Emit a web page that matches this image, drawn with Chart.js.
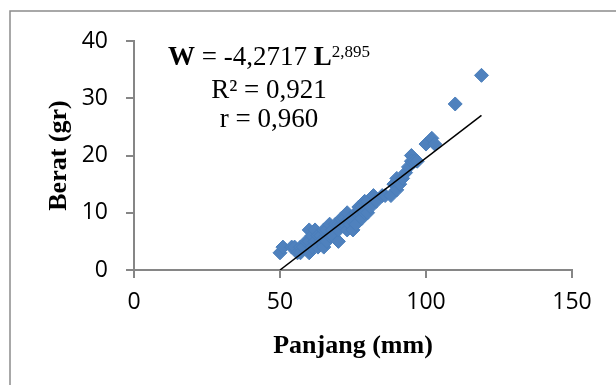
<!DOCTYPE html>
<html>
<head>
<meta charset="utf-8">
<script src="https://cdn.jsdelivr.net/npm/chart.js@4"></script>
<style>
  html, body { margin: 0; padding: 0; background: #fff; }
  #wrap { width: 616px; height: 385px; }
</style>
</head>
<body>
<div id="wrap"><canvas id="chart" width="616" height="385"></canvas></div>
<script>
// panjang (mm) dan berat (gr) tiap ikan
const panjang = [50, 51, 54, 55, 56, 57, 57, 58, 59, 60, 60, 60, 61, 61, 62, 62, 63, 63, 64, 64,
  65, 65, 66, 66, 67, 67, 68, 68, 69, 70, 70, 70, 71, 71, 72, 72, 73, 73, 74, 74,
  75, 75, 76, 76, 77, 77, 78, 78, 79, 79, 80, 80, 81, 82, 83, 85, 86, 88, 89, 90,
  90, 91, 92, 93, 94, 95, 95, 96, 97, 100, 102, 103, 110, 119];
const berat = [3, 4, 4, 4, 3, 4, 3, 4, 5, 5, 3, 7, 6, 4, 7, 5, 6, 4, 6, 5,
  7, 4, 7, 5, 6, 8, 7, 6, 8, 8, 5, 7, 8, 9, 9, 8, 10, 7, 8, 9,
  7, 9, 10, 8, 10, 11, 9, 11, 12, 10, 12, 10, 11, 13, 12, 13, 13, 13, 15, 16,
  14, 15, 16, 17, 18, 20, 19, 19, 19, 22, 23, 22, 29, 34];

// garis tren (linear)
const trendX = [50, 119];
const trendY = [0, 27];

const xTicks = [0, 50, 100, 150];
const yTicks = [0, 10, 20, 30, 40];

const eqLines = ['W = -4,2717 L', '2,895', 'R\u00B2 = 0,921', 'r = 0,960'];

const axisGray = '#868686';
const serif = "'Liberation Serif', 'Times New Roman', serif";

// bingkai luar + teks persamaan
const extras = {
  id: 'extras',
  beforeDraw(chart) {
    const ctx = chart.ctx;
    ctx.save();
    ctx.strokeStyle = '#8c8c8c';
    ctx.lineWidth = 1.5;
    ctx.strokeRect(10, 11, 700, 500);
    ctx.restore();
  },
  afterDraw(chart) {
    const ctx = chart.ctx;
    const cx = 269;
    ctx.save();
    ctx.fillStyle = '#000';
    ctx.textBaseline = 'alphabetic';
    ctx.textAlign = 'left';

    // baris 1: W = -4,2717 L^2,895
    const big = '27px ' + serif;
    const bigB = 'bold 27px ' + serif;
    const sup = '17px ' + serif;
    ctx.font = bigB; const wW = ctx.measureText('W').width;
    ctx.font = big; const wMid = ctx.measureText(' = -4,2717 ').width;
    ctx.font = bigB; const wL = ctx.measureText('L').width;
    ctx.font = sup; const wSup = ctx.measureText(eqLines[1]).width;
    let x = cx - (wW + wMid + wL + wSup) / 2;
    ctx.font = bigB; ctx.fillText('W', x, 65); x += wW;
    ctx.font = big; ctx.fillText(' = -4,2717 ', x, 65); x += wMid;
    ctx.font = bigB; ctx.fillText('L', x, 65); x += wL;
    ctx.font = sup; ctx.fillText(eqLines[1], x, 57);

    ctx.font = big;
    ctx.textAlign = 'center';
    ctx.fillText(eqLines[2], cx, 98);
    ctx.fillText(eqLines[3], cx, 127);
    ctx.restore();
  }
};

new Chart(document.getElementById('chart'), {
  type: 'scatter',
  data: {
    datasets: [
      {
        label: 'Tren',
        data: trendX.map((v, i) => ({ x: v, y: trendY[i] })),
        showLine: true,
        borderColor: '#000',
        borderWidth: 1.5,
        pointRadius: 0,
        pointHoverRadius: 0
      },
      {
        label: 'Berat',
        data: panjang.map((v, i) => ({ x: v, y: berat[i] })),
        pointStyle: 'rectRot',
        pointRadius: 7,
        pointHoverRadius: 7,
        backgroundColor: '#4F81BD',
        borderColor: '#4A7EBB',
        borderWidth: 1
      }
    ]
  },
  options: {
    responsive: false,
    animation: false,
    devicePixelRatio: 1,
    layout: { padding: { top: 41, right: 44, left: 0, bottom: 0 } },
    plugins: {
      legend: { display: false },
      tooltip: { enabled: false }
    },
    scales: {
      x: {
        type: 'linear',
        min: 0,
        max: 150,
        afterBuildTicks: s => { s.ticks = xTicks.map(v => ({ value: v })); },
        afterFit: s => { s.height = 115; },
        grid: { drawOnChartArea: false, drawTicks: true, tickLength: 8, color: axisGray, lineWidth: 2 },
        border: { display: true, color: axisGray, width: 2 },
        ticks: { color: '#000', font: { family: "'Open Sans'", size: 23 }, padding: 11 },
        title: {
          display: true,
          text: 'Panjang (mm)',
          color: '#000',
          font: { family: serif, size: 26, weight: 'bold' },
          padding: { top: 0, bottom: 23 }
        }
      },
      y: {
        type: 'linear',
        min: 0,
        max: 40,
        afterBuildTicks: s => { s.ticks = yTicks.map(v => ({ value: v })); },
        afterFit: s => { s.width = 134; },
        grid: { drawOnChartArea: false, drawTicks: true, tickLength: 8, color: axisGray, lineWidth: 2 },
        border: { display: true, color: axisGray, width: 2 },
        ticks: { color: '#000', font: { family: "'Open Sans'", size: 23 }, padding: 18 },
        title: {
          display: true,
          text: 'Berat (gr)',
          color: '#000',
          font: { family: serif, size: 26, weight: 'bold' },
          padding: { top: 44, bottom: 0 }
        }
      }
    }
  },
  plugins: [extras]
});
</script>
</body>
</html>
